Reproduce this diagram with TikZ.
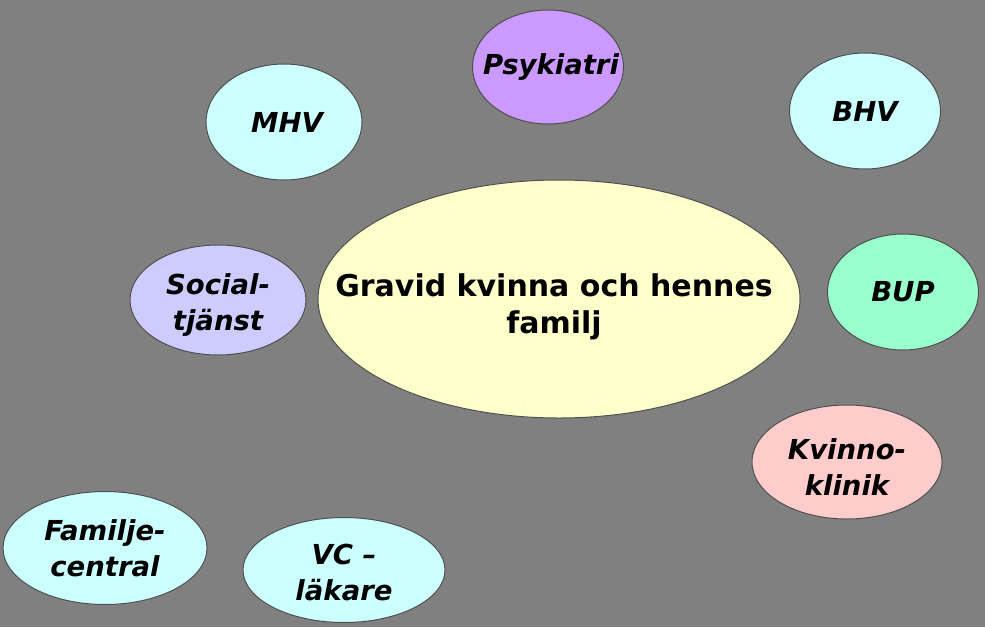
\documentclass[tikz,border=0pt]{standalone}
\usepackage{fontspec}
\setmainfont{DejaVu Sans}
\usetikzlibrary{shapes.geometric}
\definecolor{bg}{HTML}{808080}
\definecolor{edge}{HTML}{505050}
\definecolor{lav}{HTML}{CC99FF}
\definecolor{cyanl}{HTML}{CCFFFF}
\definecolor{peri}{HTML}{CCCCFF}
\definecolor{mint}{HTML}{99FFCC}
\definecolor{pink}{HTML}{FFCCCC}
\definecolor{cream}{HTML}{FFFFCC}
\begin{document}
\begin{tikzpicture}[x=1pt,y=-1pt,
  blob/.style={ellipse,draw=edge,line width=1pt,inner sep=0pt},
  lab/.style={align=center,inner sep=0pt,
    font=\fontsize{27.5}{36}\selectfont\bfseries\itshape},
  mainlab/.style={align=center,inner sep=0pt,
    font=\fontsize{30}{37}\selectfont\bfseries},
  ]
\fill[bg] (0,0) rectangle (985,627);
\useasboundingbox (0,0) rectangle (985,627);
\node[blob,fill=lav,minimum width=151,minimum height=114] (psy) at (548,67) {};
\node[lab] (psyt) at ([xshift=3]psy) {Psykiatri};
\node[blob,fill=cyanl,minimum width=156,minimum height=116] (mhv) at (284,122) {};
\node[lab] (mhvt) at ([xshift=3]mhv) {MHV};
\node[blob,fill=cyanl,minimum width=151,minimum height=116] (bhv) at (865,111) {};
\node[lab] (bhvt) at (bhv) {BHV};
\node[blob,fill=cream,minimum width=482,minimum height=238] (c) at (559,299) {};
\node[mainlab] (ct) at ([xshift=-5,yshift=-8]c) {Gravid kvinna och hennes\\familj};
\node[blob,fill=peri,minimum width=176,minimum height=110] (soc) at (218,300) {};
\node[lab] (soct) at ([yshift=-5]soc) {Social-\\tjänst};
\node[blob,fill=mint,minimum width=151,minimum height=116] (bup) at (903,292) {};
\node[lab] (bupt) at (bup) {BUP};
\node[blob,fill=pink,minimum width=190,minimum height=114] (kvi) at (847,462) {};
\node[lab] (kvit) at ([yshift=-5]kvi) {Kvinno-\\klinik};
\node[blob,fill=cyanl,minimum width=204,minimum height=113] (fam) at (105,548) {};
\node[lab] (famt) at (fam) {Familje-\\central};
\node[blob,fill=cyanl,minimum width=202,minimum height=105] (vc) at (344,570) {};
\node[lab] (vct) at ([yshift=-2]vc) {VC –\\läkare};
\end{tikzpicture}
\end{document}
